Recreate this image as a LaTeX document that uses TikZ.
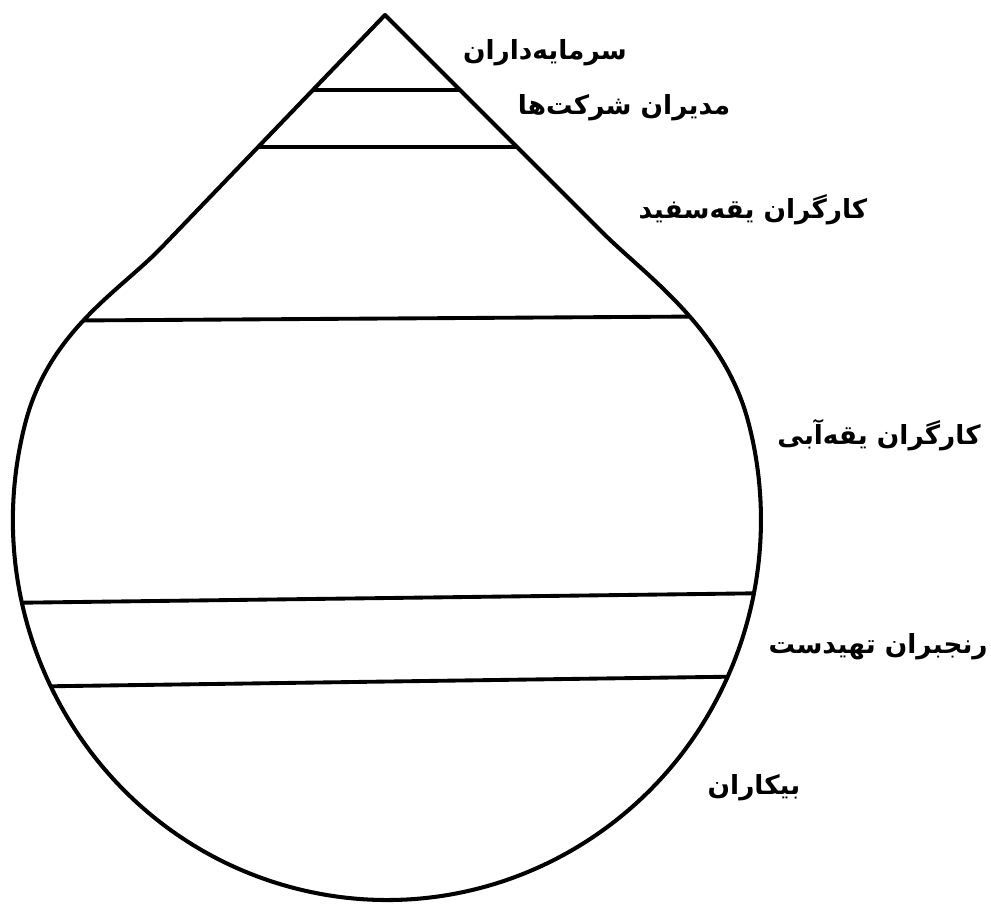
\documentclass[tikz,border=0pt]{standalone}
\usepackage{fontspec}
\newfontfamily\arabicfont[Script=Arabic]{DejaVu Sans}
\TeXXeTstate=1
\usetikzlibrary{positioning}

\begin{document}
\begin{tikzpicture}[
  x=0.02cm, y=0.02cm,
  lbl/.style ={font=\arabicfont\bfseries\fontsize{15}{18}\selectfont, inner sep=0pt},
  rim/.style ={line width=2.3pt, line join=round},
  layer/.style={line width=2.2pt}
]
\useasboundingbox (0,0) rectangle (991,905);

%% --- outline of the drop ---------------------------------------------------
\coordinate (apex)  at (385,890);
\coordinate (kinkL) at (162,658);
\coordinate (kinkR) at (605,670);
\newcommand{\dropoutline}{(apex) -- (kinkL) .. controls (121,615) and (50,575) .. (25.7,483.4)
  arc[start angle=165, end angle=375, x radius=374, y radius=380]
  .. controls (724,575) and (648,628) .. (kinkR) -- cycle}

%% --- layers ----------------------------------------------------------------
\coordinate (l1w) at (250,815); \coordinate (l1e) at (520,815);
\coordinate (l2w) at (200,758); \coordinate (l2e) at (580,758);
\coordinate (l3w) at (0,584);   \coordinate (l3e) at (780,589);
\coordinate (l4w) at (0,302);   \coordinate (l4e) at (780,312);
\coordinate (l5w) at (0,218);   \coordinate (l5e) at (780,229);

\begin{scope}
  \clip \dropoutline;
  \foreach \a/\b in {l1w/l1e, l2w/l2e, l3w/l3e, l4w/l4e, l5w/l5e}
    \draw[layer] (\a) -- (\b);
\end{scope}
\draw[rim] \dropoutline;

%% --- labels ----------------------------------------------------------------
\node[lbl] (cap)   at (545,852) {\beginR سرمایه‌داران\endR};
\node[lbl] (mgr)   at (624,797) {\beginR مدیران شرکت‌ها\endR};
\node[lbl] (white) at (753,695) {\beginR کارگران یقه‌سفید\endR};
\node[lbl, anchor=east] (blue) at (981,470) {\beginR کارگران یقه‌آبی\endR};
\node[lbl, anchor=east] (poor) at (988,258) {\beginR رنجبران تهیدست\endR};
\node[lbl] (idle)  at (754,117) {\beginR بیکاران\endR};

\end{tikzpicture}
\end{document}
